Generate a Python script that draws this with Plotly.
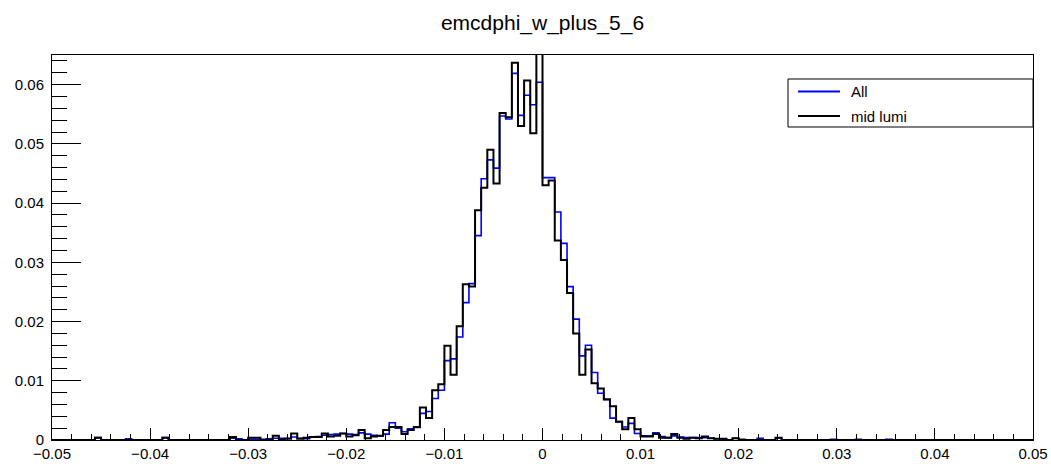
import numpy as np
import plotly.graph_objects as go

# ---- data: 160 bins from -0.05 to 0.05 ----
x_min = -0.05
x_max = 0.05
n_bins = 160

all_vals = [
    0, 0, 0, 0, 0, 0, 0, 0.0004, 0, 0,
    0, 0, 0.0002, 0, 0, 0, 0, 0, 0.0004, 0,
    0, 0, 0, 0, 0, 0, 0, 0, 0, 0.0003,
    0.0002, 0, 0.0001, 0.0001, 0.0001, 0.0002, 0.0003, 0.0003, 0.0003, 0.0005,
    0.0003, 0.0002, 0.0005, 0.0006, 0.0008, 0.0009, 0.0010, 0.0011, 0.0010, 0.0009,
    0.0012, 0.0010, 0.0008, 0.0007, 0.0010, 0.0029, 0.0020, 0.0014, 0.0019, 0.0021,
    0.0045, 0.0048, 0.0070, 0.0084, 0.0134, 0.0137, 0.0174, 0.0232, 0.0264, 0.0345,
    0.0441, 0.0473, 0.0459, 0.0547, 0.0542, 0.0619, 0.0548, 0.0582, 0.0566, 0.0604,
    0.0443, 0.0443, 0.0385, 0.0332, 0.0259, 0.0204, 0.0142, 0.0160, 0.0114, 0.0079,
    0.0068, 0.0037, 0.0031, 0.0022, 0.0028, 0.0011, 0.0007, 0.0007, 0.0012, 0.0006,
    0.0004, 0.0007, 0.0005, 0.0004, 0.0004, 0.0004, 0.0004, 0.0003, 0.0002, 0.0001,
    0, 0.0003, 0, 0, 0, 0.0003, 0, 0, 0.0003, 0,
    0, 0, 0, 0, 0, 0, 0, 0.0001, 0, 0,
    0, 0.0001, 0, 0, 0, 0, 0.0001, 0, 0, 0,
    0, 0, 0, 0, 0, 0, 0, 0, 0, 0,
    0, 0, 0, 0, 0, 0, 0, 0, 0, 0,
]

mid_lumi_vals = [
    0, 0, 0, 0, 0, 0, 0, 0.0004, 0, 0,
    0, 0, 0, 0, 0, 0, 0, 0, 0.0004, 0,
    0, 0, 0, 0, 0, 0, 0, 0, 0, 0.0005,
    0, 0, 0.0004, 0.0004, 0, 0.0001, 0.0007, 0.0001, 0.0002, 0.0011,
    0.0002, 0.0004, 0.0005, 0.0005, 0.0011, 0.0006, 0.0007, 0.0011, 0.0006, 0.0008,
    0.0017, 0.0003, 0.0006, 0.0007, 0.0017, 0.0022, 0.0022, 0.0010, 0.0017, 0.0022,
    0.0055, 0.0037, 0.0084, 0.0094, 0.0159, 0.0110, 0.0192, 0.0263, 0.0259, 0.0388,
    0.0426, 0.0490, 0.0433, 0.0552, 0.0545, 0.0637, 0.0530, 0.0607, 0.0518, 0.0690,
    0.0430, 0.0438, 0.0337, 0.0304, 0.0248, 0.0180, 0.0110, 0.0153, 0.0096, 0.0087,
    0.0069, 0.0057, 0.0031, 0.0018, 0.0037, 0.0018, 0.0006, 0.0006, 0.0010, 0.0004,
    0.0004, 0.0010, 0.0004, 0.0002, 0.0004, 0.0003, 0.0006, 0.0003, 0.0002, 0.0002,
    0, 0.0003, 0.0001, 0, 0, 0, 0, 0, 0.0004, 0,
    0, 0, 0, 0, 0, 0, 0, 0, 0, 0,
    0, 0, 0, 0, 0, 0, 0, 0, 0, 0,
    0, 0, 0, 0, 0, 0, 0, 0, 0, 0,
    0, 0, 0, 0, 0, 0, 0, 0, 0, 0,
]

series_names = ["All", "mid lumi"]
series_colors = ["#0000ff", "#000000"]
title_text = "emcdphi_w_plus_5_6"

edges = np.linspace(x_min, x_max, n_bins + 1)

FONT = "Liberation Sans, Arial, Helvetica, sans-serif"

fig = go.Figure()
for name, vals, col, w in zip(series_names, [all_vals, mid_lumi_vals], series_colors, [1.6, 2.0]):
    y = list(vals) + [vals[-1]]
    fig.add_trace(go.Scatter(
        x=edges, y=y, mode="lines", line=dict(color=col, width=w, shape="hv"),
        name=name, showlegend=False, hoverinfo="skip",
    ))

W, H = 1051, 464
ml, mr, mt, mb = 52, 18, 55, 24
pw, ph = W - ml - mr, H - mt - mb

def px_x(p):
    return (p - ml) / pw

def px_y(p):
    return (H - mb - p) / ph

# legend box (drawn manually, ROOT style)
shapes = [
    dict(type="rect", xref="paper", yref="paper", x0=px_x(788), x1=px_x(1033),
         y0=px_y(127), y1=px_y(79), line=dict(color="black", width=1), fillcolor="white", layer="above"),
]
annotations = []
for i, (name, col) in enumerate(zip(series_names, series_colors)):
    yc = 91.5 + i * 24.5
    shapes.append(dict(type="line", xref="paper", yref="paper", x0=px_x(798), x1=px_x(840),
                       y0=px_y(yc), y1=px_y(yc), line=dict(color=col, width=2), layer="above"))
    annotations.append(dict(text=name, xref="paper", yref="paper", x=px_x(849), y=px_y(yc),
                            xanchor="left", yanchor="middle", showarrow=False,
                            font=dict(family=FONT, size=15, color="black")))

axis_common = dict(showgrid=False, zeroline=False, showline=True, mirror=True,
                   linecolor="black", linewidth=1, ticks="inside", tickcolor="black",
                   automargin=False,
                   tickfont=dict(family=FONT, size=15, color="black"))

fig.update_layout(
    width=W, height=H,
    margin=dict(l=ml, r=mr, t=mt, b=mb, autoexpand=False),
    paper_bgcolor="white", plot_bgcolor="white",
    title=dict(text=title_text, x=0.5, xref="paper", y=1 - 23 / H, yref="container",
               xanchor="center", yanchor="middle",
               font=dict(family=FONT, size=21, color="black")),
    xaxis=dict(range=[x_min, x_max], tick0=-0.05, dtick=0.01, ticklen=12,
               minor=dict(dtick=0.002, tick0=-0.05, ticklen=6, ticks="inside", tickcolor="black"),
               **axis_common),
    yaxis=dict(range=[0, 0.065], tick0=0, dtick=0.01, ticklen=29, ticklabelstandoff=4,
               minor=dict(dtick=0.002, tick0=0, ticklen=15, ticks="inside", tickcolor="black"),
               **axis_common),
    shapes=shapes, annotations=annotations,
)

fig.write_html("out.html")
